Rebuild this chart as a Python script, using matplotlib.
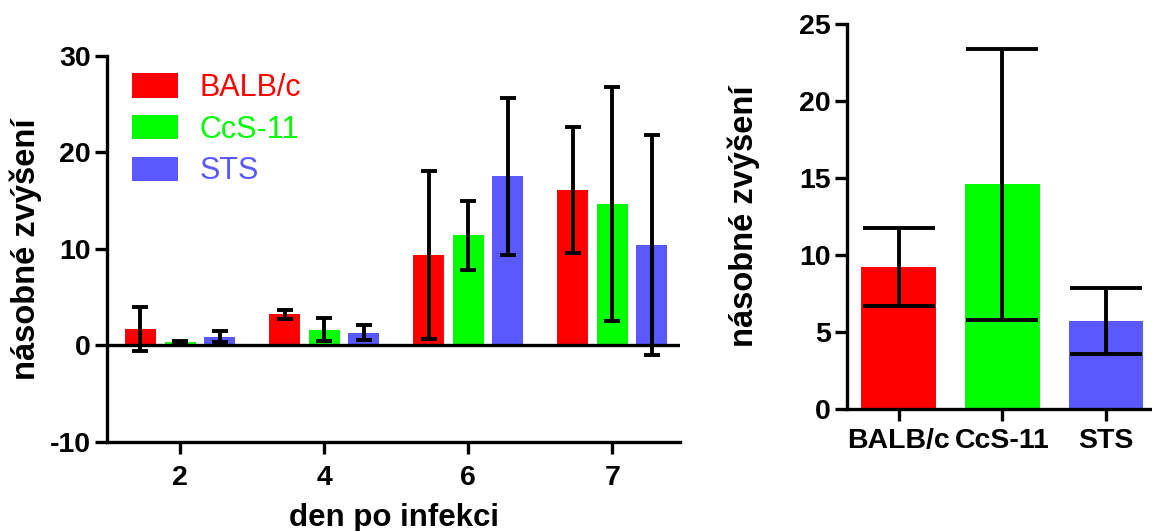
import matplotlib
matplotlib.use("Agg")
import matplotlib.pyplot as plt
import numpy as np

plt.rcParams['font.family'] = ['Liberation Sans', 'DejaVu Sans']

# data
days = ["2", "4", "6", "7"]
strains = ["BALB/c", "CcS-11", "STS"]
colors = ["#FF0000", "#00FF00", "#5959FF"]

balb_mean = [1.7, 3.2, 9.4, 16.1]
balb_sd = [2.3, 0.5, 8.7, 6.5]
ccs_mean = [0.35, 1.6, 11.4, 14.65]
ccs_sd = [0.1, 1.2, 3.6, 12.15]
sts_mean = [0.9, 1.3, 17.5, 10.4]
sts_sd = [0.55, 0.8, 8.15, 11.4]

total_mean = [9.2, 14.6, 5.7]
total_sd = [2.55, 8.8, 2.15]

lw = 2.4
elw = 2.8
fig = plt.figure(figsize=(11.52, 5.31), dpi=100)

# left panel
ax = fig.add_axes([0.0929, 0.168, 0.4974, 0.727])
x = np.arange(len(days))
series = [(balb_mean, balb_sd), (ccs_mean, ccs_sd), (sts_mean, sts_sd)]
for i, (m, s) in enumerate(series):
    ax.bar(x + (i - 1) * 0.275, m, width=0.215, color=colors[i], label=strains[i],
           yerr=s, error_kw=dict(ecolor="black", elinewidth=elw, capsize=5.8, capthick=elw))
ax.axhline(0, color="black", lw=lw, zorder=3)
ax.set_xlim(-0.507, 3.47)
ax.set_ylim(-10, 30)
ax.set_yticks([-10, 0, 10, 20, 30])
ax.set_yticklabels(["-10", "0", "10", "20", "30"])
ax.set_xticks(x)
ax.set_xticklabels(days)
ax.set_xlabel("den po infekci", fontsize=22.5, fontweight="bold", labelpad=9)
ax.set_ylabel("násobné zvýšení", fontsize=23.5, fontweight="bold", labelpad=6)
ax.tick_params(axis="x", pad=8)

leg = ax.legend(loc="upper left", bbox_to_anchor=(0.044, 0.955), frameon=False,
                fontsize=22, handlelength=1.5, handleheight=0.85, handletextpad=0.7,
                labelspacing=0.38, labelcolor=colors, borderaxespad=0, borderpad=0)

# right panel
ax2 = fig.add_axes([0.735, 0.230, 0.263, 0.725])
x2 = np.arange(len(strains))
ax2.bar(x2, total_mean, width=0.72, color=colors, yerr=total_sd,
        error_kw=dict(ecolor="black", elinewidth=elw, capsize=26, capthick=elw))
ax2.set_xlim(-0.5, 2.42)
ax2.set_ylim(0, 25)
ax2.set_yticks([0, 5, 10, 15, 20, 25])
ax2.set_xticks(x2)
ax2.set_xticklabels(strains)
ax2.set_ylabel("násobné zvýšení", fontsize=23.5, fontweight="bold", labelpad=28)
ax2.tick_params(axis="x", pad=5)

for a in (ax, ax2):
    for side in ("top", "right"):
        a.spines[side].set_visible(False)
    for side in ("left", "bottom"):
        a.spines[side].set_linewidth(lw)
    a.tick_params(width=lw, length=8.6, labelsize=20.5, direction="out")
    a.tick_params(axis="y", pad=3)
    for t in a.get_xticklabels() + a.get_yticklabels():
        t.set_fontweight("bold")

fig.savefig("out.png", dpi=100)
